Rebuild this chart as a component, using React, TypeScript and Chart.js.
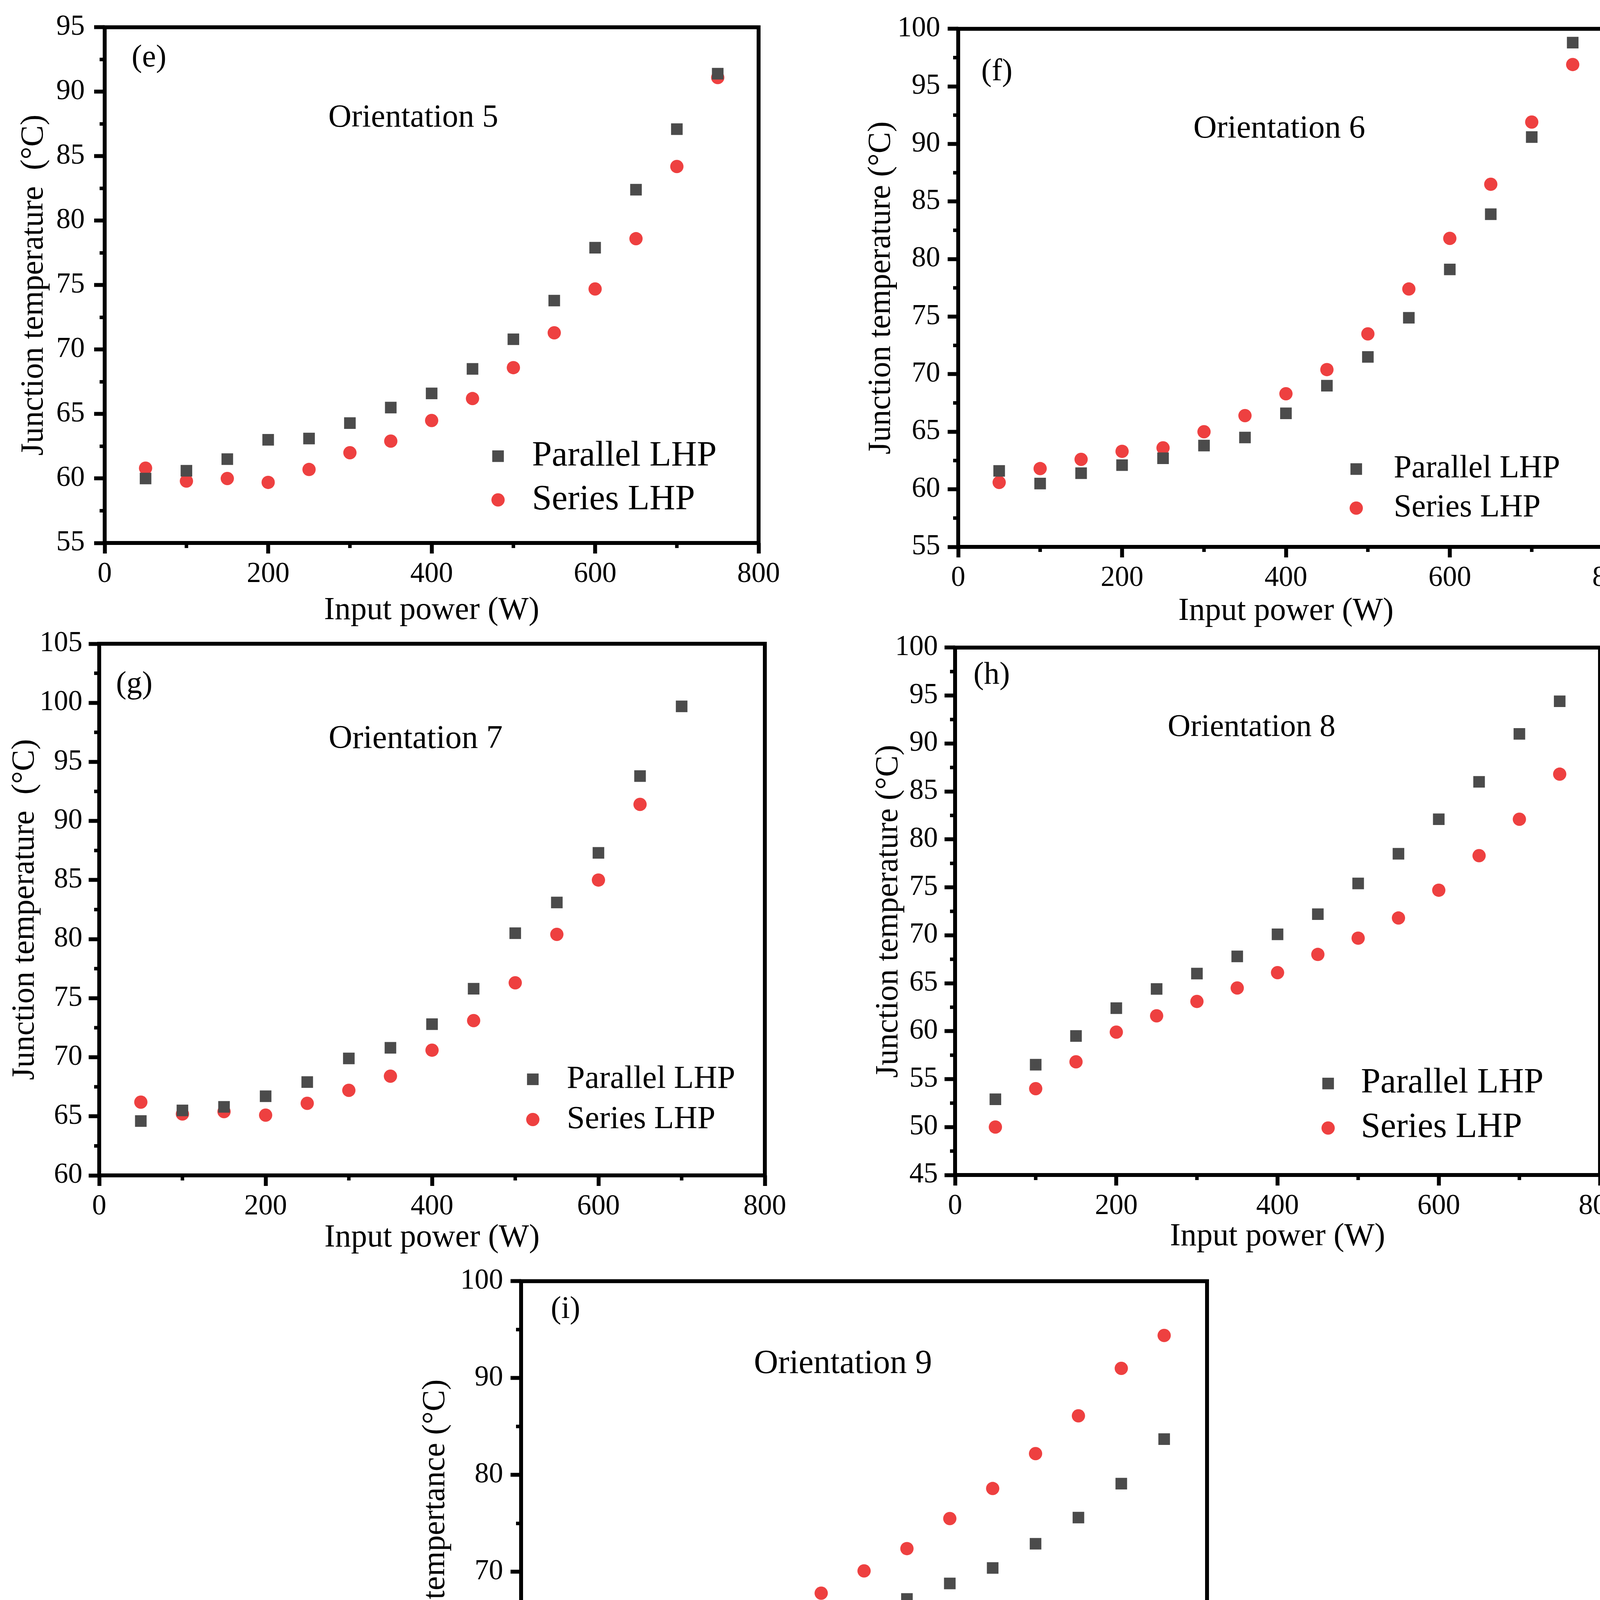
import React, { useEffect, useRef } from "react";
import { Chart, registerables } from "chart.js";

Chart.register(...registerables);
Chart.defaults.font.family = '"Liberation Serif", "Times New Roman", serif';

// ---------------- data ----------------
const inputPower = [50, 100, 150, 200, 250, 300, 350, 400, 450, 500, 550, 600, 650, 700, 750];
const inputPowerGParallel = [50, 100, 150, 200, 250, 300, 350, 400, 450, 500, 550, 600, 650, 700];
const inputPowerGSeries = [50, 100, 150, 200, 250, 300, 350, 400, 450, 500, 550, 600, 650];

const parallelE = [60.0, 60.6, 61.5, 63.0, 63.1, 64.3, 65.5, 66.6, 68.5, 70.8, 73.8, 77.9, 82.4, 87.1, 91.4];
const seriesE = [60.8, 59.8, 60.0, 59.7, 60.7, 62.0, 62.9, 64.5, 66.2, 68.6, 71.3, 74.7, 78.6, 84.2, 91.1];
const parallelF = [61.6, 60.5, 61.4, 62.1, 62.7, 63.8, 64.5, 66.6, 69.0, 71.5, 74.9, 79.1, 83.9, 90.6, 98.8];
const seriesF = [60.6, 61.8, 62.6, 63.3, 63.6, 65.0, 66.4, 68.3, 70.4, 73.5, 77.4, 81.8, 86.5, 91.9, 96.9];
const parallelG = [64.6, 65.5, 65.8, 66.7, 67.9, 69.9, 70.8, 72.8, 75.8, 80.5, 83.1, 87.3, 93.8, 99.7];
const seriesG = [66.2, 65.2, 65.4, 65.1, 66.1, 67.2, 68.4, 70.6, 73.1, 76.3, 80.4, 85.0, 91.4];
const parallelH = [52.9, 56.5, 59.5, 62.4, 64.4, 66.0, 67.8, 70.1, 72.2, 75.4, 78.5, 82.1, 86.0, 91.0, 94.4];
const seriesH = [50.0, 54.0, 56.8, 59.9, 61.6, 63.1, 64.5, 66.1, 68.0, 69.7, 71.8, 74.7, 78.3, 82.1, 86.8];
const parallelI = [59.5, 60.9, 61.7, 62.0, 63.0, 64.2, 65.1, 65.9, 67.2, 68.8, 70.4, 72.9, 75.6, 79.1, 83.7];
const seriesI = [52.9, 56.6, 59.6, 62.5, 64.4, 66.0, 67.8, 70.1, 72.4, 75.5, 78.6, 82.2, 86.1, 91.0, 94.4];

const xTicks = [0, 200, 400, 600, 800];
const yTicksE = [55, 60, 65, 70, 75, 80, 85, 90, 95];
const yTicksF = [55, 60, 65, 70, 75, 80, 85, 90, 95, 100];
const yTicksG = [60, 65, 70, 75, 80, 85, 90, 95, 100, 105];
const yTicksH = [45, 50, 55, 60, 65, 70, 75, 80, 85, 90, 95, 100];
const yTicksI = [50, 60, 70, 80, 90, 100];

const seriesNames = ["Parallel LHP", "Series LHP"];

// ---------------- layout / style ----------------
const PAGE_W = 4217;
const PAGE_H = 4882;
const YW = 300; // y-axis box width
const PT = 60; // top padding
const PR = 100; // right padding
const XH = 260; // x-axis box height
const FONT = '"Liberation Serif", "Times New Roman", serif';
const GRAY = "#4b4b4b";
const RED = "#ee4040";

type Panel = {
  tag: string;
  orientation: string;
  yTitle: string;
  yMin: number;
  yMax: number;
  yTicks: number[];
  px: number[];
  py: number[];
  sx: number[];
  sy: number[];
  plot: { left: number; top: number; right: number; bottom: number };
  yTitlePad: number;
  yTickPad: number;
  xTitlePad: number;
  tagPos: [number, number];
  orientPos: [number, number];
  orientFont: number;
  legend: { mx: number; y1: number; y2: number; tx: number; font: number };
};

const panels: Panel[] = [
  {
    tag: "(e)", orientation: "Orientation 5", yTitle: "Junction temperature  (\u00B0C)",
    yMin: 55, yMax: 95, yTicks: yTicksE,
    px: inputPower, py: parallelE, sx: inputPower, sy: seriesE,
    plot: { left: 268, top: 62, right: 1942, bottom: 1390 },
    yTitlePad: 70, yTickPad: 24, xTitlePad: 37,
    tagPos: [69, 79], orientPos: [790, 233], orientFont: 82,
    legend: { mx: 1007, y1: 1098, y2: 1210, tx: 1094, font: 91 },
  },
  {
    tag: "(f)", orientation: "Orientation 6", yTitle: "Junction temperature (\u00B0C)",
    yMin: 55, yMax: 100, yTicks: yTicksF,
    px: inputPower, py: parallelF, sx: inputPower, sy: seriesF,
    plot: { left: 2453, top: 71, right: 4131, bottom: 1400 },
    yTitlePad: 54, yTickPad: 19, xTitlePad: 45,
    tagPos: [59, 111], orientPos: [822, 256], orientFont: 83,
    legend: { mx: 1019, y1: 1127, y2: 1227, tx: 1115, font: 82 },
  },
  {
    tag: "(g)", orientation: "Orientation 7", yTitle: "Junction temperature  (\u00B0C)",
    yMin: 60, yMax: 105, yTicks: yTicksG,
    px: inputPowerGParallel, py: parallelG, sx: inputPowerGSeries, sy: seriesG,
    plot: { left: 254, top: 1648, right: 1958, bottom: 3009 },
    yTitlePad: 61, yTickPad: 16, xTitlePad: 50,
    tagPos: [43, 105], orientPos: [810, 245], orientFont: 84,
    legend: { mx: 1110, y1: 1115, y2: 1218, tx: 1197, font: 83 },
  },
  {
    tag: "(h)", orientation: "Orientation 8", yTitle: "Junction temperature (\u00B0C)",
    yMin: 45, yMax: 100, yTicks: yTicksH,
    px: inputPower, py: parallelH, sx: inputPower, sy: seriesH,
    plot: { left: 2445, top: 1657, right: 4096, bottom: 3008 },
    yTitlePad: 81, yTickPad: 17, xTitlePad: 52,
    tagPos: [47, 71], orientPos: [759, 205], orientFont: 81,
    legend: { mx: 955, y1: 1116, y2: 1230, tx: 1039, font: 90 },
  },
  {
    tag: "(i)", orientation: "Orientation 9", yTitle: "Junction tempertance (\u00B0C)",
    yMin: 45, yMax: 100, yTicks: yTicksI,
    px: inputPower, py: parallelI, sx: inputPower, sy: seriesI,
    plot: { left: 1334, top: 3277, right: 3090, bottom: 4644 },
    yTitlePad: 32, yTickPad: 19, xTitlePad: 41,
    tagPos: [76, 73], orientPos: [824, 213], orientFont: 86,
    legend: { mx: 1052, y1: 1139, y2: 1242, tx: 1151, font: 86 },
  },
];

function minorValues(major: number[], min: number, max: number): number[] {
  const out: number[] = [];
  const step = major[1] - major[0];
  const first = major[0] - step / 2;
  if (first >= min) out.push(first);
  for (let i = 0; i < major.length - 1; i++) out.push((major[i] + major[i + 1]) / 2);
  const last = major[major.length - 1] + step / 2;
  if (last <= max) out.push(last);
  return out;
}

function makeDecorPlugin(p: Panel) {
  return {
    id: "decor",
    afterDraw(chart: any) {
      const { ctx, chartArea: a, scales } = chart;
      ctx.save();
      // frame
      ctx.strokeStyle = "#000";
      ctx.lineWidth = 10;
      ctx.strokeRect(a.left, a.top, a.right - a.left, a.bottom - a.top);
      // minor ticks
      ctx.lineWidth = 9;
      ctx.beginPath();
      for (const v of minorValues(xTicks, 0, 800)) {
        const px = scales.x.getPixelForValue(v);
        ctx.moveTo(px, a.bottom);
        ctx.lineTo(px, a.bottom + 13);
      }
      for (const v of minorValues(p.yTicks, p.yMin, p.yMax)) {
        const py = scales.y.getPixelForValue(v);
        ctx.moveTo(a.left, py);
        ctx.lineTo(a.left - 13, py);
      }
      ctx.stroke();
      // panel tag and orientation label
      ctx.fillStyle = "#000";
      ctx.textBaseline = "middle";
      ctx.textAlign = "left";
      ctx.font = `80px ${FONT}`;
      ctx.fillText(p.tag, a.left + p.tagPos[0], a.top + p.tagPos[1]);
      ctx.textAlign = "center";
      ctx.font = `${p.orientFont}px ${FONT}`;
      ctx.fillText(p.orientation, a.left + p.orientPos[0], a.top + p.orientPos[1]);
      // legend
      const ds = chart.data.datasets;
      const rows = [p.legend.y1, p.legend.y2];
      ds.forEach((d: any, i: number) => {
        const cx = a.left + p.legend.mx;
        const cy = a.top + rows[i];
        ctx.fillStyle = d.backgroundColor;
        if (d.pointStyle === "rect") {
          const s = Math.SQRT1_2 * d.pointRadius;
          ctx.fillRect(cx - s, cy - s, 2 * s, 2 * s);
        } else {
          ctx.beginPath();
          ctx.arc(cx, cy, d.pointRadius, 0, Math.PI * 2);
          ctx.fill();
        }
        ctx.fillStyle = "#000";
        ctx.textAlign = "left";
        ctx.font = `${p.legend.font}px ${FONT}`;
        ctx.fillText(d.label, a.left + p.legend.tx, cy);
      });
      ctx.restore();
    },
  };
}

function PanelChart({ p }: { p: Panel }) {
  const ref = useRef<HTMLCanvasElement>(null);
  const width = p.plot.right - p.plot.left + YW + PR;
  const height = p.plot.bottom - p.plot.top + PT + XH;

  useEffect(() => {
    const tickFont = { family: FONT, size: 73 };
    const titleFont = { family: FONT, size: 82 };
    const chart = new Chart(ref.current as HTMLCanvasElement, {
      type: "scatter",
      data: {
        datasets: [
          {
            label: seriesNames[0],
            data: p.px.map((x, i) => ({ x, y: p.py[i] })),
            pointStyle: "rect",
            pointRadius: 21,
            backgroundColor: GRAY,
            borderWidth: 0,
          },
          {
            label: seriesNames[1],
            data: p.sx.map((x, i) => ({ x, y: p.sy[i] })),
            pointStyle: "circle",
            pointRadius: 17,
            backgroundColor: RED,
            borderWidth: 0,
          },
        ],
      },
      options: {
        responsive: false,
        animation: false,
        devicePixelRatio: 1,
        events: [],
        layout: { padding: { left: 0, top: PT, right: PR, bottom: 0 } },
        plugins: { legend: { display: false }, tooltip: { enabled: false } },
        scales: {
          x: {
            type: "linear",
            position: "bottom",
            min: 0,
            max: 800,
            afterBuildTicks: (s: any) => {
              s.ticks = xTicks.map((v) => ({ value: v }));
            },
            afterFit: (s: any) => {
              s.height = XH;
            },
            grid: {
              display: true,
              drawOnChartArea: false,
              drawTicks: true,
              tickLength: 27,
              tickWidth: 10,
              tickColor: "#000",
            },
            border: { display: false },
            ticks: { font: tickFont, color: "#000", padding: 10, maxRotation: 0, autoSkip: false },
            title: {
              display: true,
              text: "Input power (W)",
              font: titleFont,
              color: "#000",
              padding: { top: 0, bottom: p.xTitlePad },
            },
          },
          y: {
            type: "linear",
            position: "left",
            min: p.yMin,
            max: p.yMax,
            afterBuildTicks: (s: any) => {
              s.ticks = p.yTicks.map((v) => ({ value: v }));
            },
            afterFit: (s: any) => {
              s.width = YW;
            },
            grid: {
              display: true,
              drawOnChartArea: false,
              drawTicks: true,
              tickLength: 27,
              tickWidth: 10,
              tickColor: "#000",
            },
            border: { display: false },
            ticks: { font: tickFont, color: "#000", padding: p.yTickPad, autoSkip: false },
            title: {
              display: true,
              text: p.yTitle,
              font: titleFont,
              color: "#000",
              padding: { top: p.yTitlePad, bottom: 0 },
            },
          },
        },
      },
      plugins: [makeDecorPlugin(p)],
    } as any);
    return () => chart.destroy();
  }, [p]);

  return (
    <canvas
      ref={ref}
      width={width}
      height={height}
      style={{
        position: "absolute",
        left: p.plot.left - YW,
        top: p.plot.top - PT,
        width,
        height,
      }}
    />
  );
}

export default function App() {
  return (
    <div
      style={{
        position: "absolute",
        left: 0,
        top: 0,
        width: PAGE_W,
        height: PAGE_H,
        background: "#fff",
        overflow: "hidden",
      }}
    >
      {panels.map((p) => (
        <PanelChart key={p.tag} p={p} />
      ))}
    </div>
  );
}
